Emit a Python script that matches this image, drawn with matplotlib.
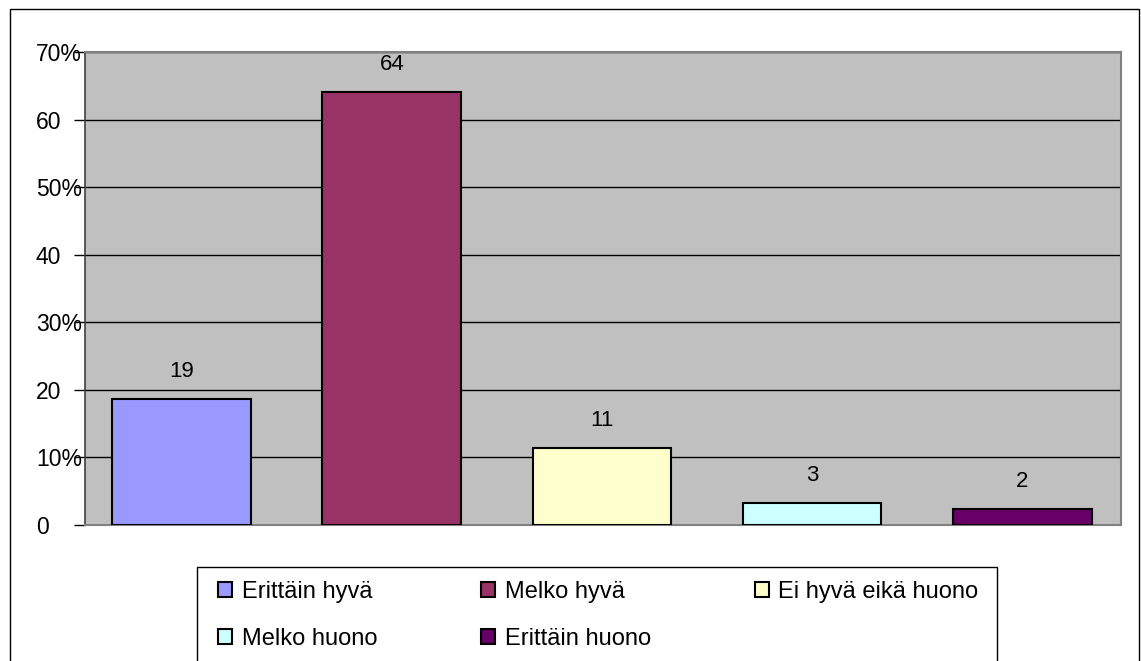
import matplotlib
matplotlib.use("Agg")
import matplotlib.pyplot as plt
from matplotlib.patches import Rectangle

plt.rcParams['font.family'] = ['Liberation Sans', 'DejaVu Sans']

# vastausjakauma (%)
categories = ["Erittäin hyvä", "Melko hyvä", "Ei hyvä eikä huono", "Melko huono", "Erittäin huono"]
shares = [18.6, 64.1, 11.4, 3.2, 2.3]
colors = ["#9999FF", "#993366", "#FFFFCC", "#CCFFFF", "#660066"]
yticks = [0, 10, 20, 30, 40, 50, 60, 70]
ytick_labels = ["0", "10%", "20", "30%", "40", "50%", "60", "70%"]

fig = plt.figure(figsize=(11.41, 6.61), dpi=100)
ax = fig.add_axes([85 / 1141, 1 - 525 / 661, 1036 / 1141, 473 / 661])
ax.set_facecolor("#C0C0C0")

x = range(len(categories))
bars = ax.bar(x, shares, width=0.66, color=colors, edgecolor="black", linewidth=1.5,
              label=categories, zorder=3)
ax.bar_label(bars, fmt="%.0f", padding=12.5, fontsize=16)

ax.set_xlim(-0.46, len(categories) - 0.53)
ax.set_ylim(0, 70)
ax.set_yticks(yticks)
ax.set_yticklabels(ytick_labels, fontsize=16.5)
for lab in ax.get_yticklabels():
    lab.set_horizontalalignment("left")
ax.set_xticks([])
ax.yaxis.grid(True, color="black", linewidth=1, zorder=1)
ax.tick_params(axis="y", direction="out", length=8, width=1, color="black", pad=27.3)

for side in ["top", "right", "bottom"]:
    ax.spines[side].set_color("#808080")
    ax.spines[side].set_linewidth(1.5)
ax.spines["left"].set_color("#404040")
ax.spines["left"].set_linewidth(1.2)

# rivijärjestys legendaan (matplotlib täyttää sarakkeittain)
handles, labels = ax.get_legend_handles_labels()
order = [0, 3, 1, 4, 2]
leg = fig.legend([handles[i] for i in order], [labels[i] for i in order],
                 loc="upper left", bbox_to_anchor=(218 / 1141, 1 - 581 / 661),
                 ncol=3, fontsize=17, frameon=False,
                 handlelength=0.6, handleheight=0.6,
                 handletextpad=0.4, columnspacing=4.4, labelspacing=1.05,
                 borderpad=0, borderaxespad=0)

# legendan kehys (alareuna jää kuvan ulkopuolelle)
fig.patches.append(Rectangle((197 / 1141, -0.1), 800 / 1141, 0.1 + 1 - 567 / 661,
                             transform=fig.transFigure, fill=False,
                             edgecolor="black", linewidth=1))

# kehys koko kuvion ympärille
fig.patches.append(Rectangle((10 / 1141, -0.1), 1129 / 1141, 1.1 - 9 / 661,
                             transform=fig.transFigure, fill=False,
                             edgecolor="black", linewidth=1))

fig.savefig("out.png", dpi=100)
